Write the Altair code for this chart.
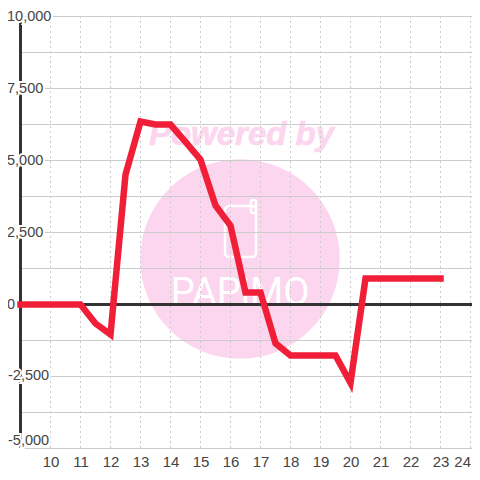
import altair as alt
import pandas as pd

hours = [9, 10, 11, 11.5, 12, 12.5, 13, 13.5, 14, 14.5, 15, 15.5, 16, 16.5, 17, 17.5,
         18, 18.5, 19, 19.5, 20, 20.5, 21, 21.5, 22, 22.5, 23]
values = [0, 0, 0, -660, -1040, 4510, 6350, 6250, 6250, 5650, 5030, 3440, 2740, 420, 420, -1350,
          -1770, -1770, -1770, -1770, -2720, 900, 900, 900, 900, 900, 900]
x_ticks = list(range(10, 25))
y_grid = [-5000, -3750, -2500, -1250, 0, 1250, 2500, 3750, 5000, 6250, 7500, 8750, 10000]
y_labels_pos = [10000, 7500, 5000, 2500, 0]
y_text_pos = ["10,000", "7,500", "5,000", "2,500", "0"]
y_labels_neg = [-2500]
y_text_neg = ["-2,500"]
y_labels_low = [-5000]
y_text_low = ["-5,000"]

FONT = "Liberation Sans"
GRID = "#cccccc"
DARK = "#333333"
PINK = "#fcd5ee"
RED = "#f01f37"

xs = alt.Scale(domain=[8.5833, 24.05], nice=False, zero=False)
ys = alt.Scale(domain=[-4982.64, 10295.14], nice=False, zero=False)
x_axis = alt.Axis(values=x_ticks, domain=False, ticks=False, grid=False, title=None, format="d",
                  labelFont=FONT, labelFontSize=15, labelColor="#444444", labelPadding=6,
                  labelOverlap=False, labelFlush=False, labelBound=False,
                  labelAlign=alt.expr("datum.value == 24 ? 'right' : 'center'"))
X = lambda f: alt.X(f, type="quantitative", scale=xs, axis=x_axis, title=None)
Y = lambda f: alt.Y(f, type="quantitative", scale=ys, axis=None)

line_df = pd.DataFrame({"hour": hours, "value": values})
xgrid_df = pd.DataFrame({"t": x_ticks})
ygrid_df = pd.DataFrame({"v": [v for v in y_grid if v != 0]})
zero_df = pd.DataFrame({"v": [0]})
axis_df = pd.DataFrame({"h": [9], "a": [-5000], "b": [10000]})

# Watermark
base = alt.Chart(zero_df)
circle = base.mark_point(shape="circle", filled=True, color=PINK, opacity=1, size=39800).encode(
    x=alt.value(232), y=alt.value(251))
powered = base.mark_text(text="Powered by", font=FONT, fontSize=33, fontWeight="bold", fontStyle="italic",
                         color=PINK, stroke=PINK, strokeWidth=0.6, align="center", baseline="alphabetic").encode(
    x=alt.value(233.5), y=alt.value(137))
phone = base.mark_rect(fillOpacity=0, stroke="white", strokeWidth=2.5, cornerRadius=4).encode(
    x=alt.value(217), x2=alt.value(248), y=alt.value(198), y2=alt.value(249))
antenna = base.mark_rect(fillOpacity=0, stroke="white", strokeWidth=2.5, cornerRadius=2).encode(
    x=alt.value(243), x2=alt.value(248), y=alt.value(192), y2=alt.value(205))
papimo = base.mark_text(text="PAPiMO", font="Roboto", fontSize=38, fontWeight=400, color="white",
                        align="center", baseline="alphabetic").encode(
    x=alt.value(232), y=alt.value(297))

# Grid
hgrid = alt.Chart(ygrid_df).mark_rule(color=GRID, strokeWidth=1).encode(
    x=alt.value(12.5), x2=alt.value(464), y=Y("v"))
vgrid = alt.Chart(xgrid_df).mark_rule(color=GRID, strokeWidth=1, strokeDash=[2, 3]).encode(
    x=X("t"), y=alt.value(8), y2=alt.value(440))
zero = alt.Chart(zero_df).mark_rule(color=DARK, strokeWidth=3).encode(
    x=alt.value(12.5), x2=alt.value(464), y=Y("v"))
yaxis = alt.Chart(axis_df).mark_rule(color=DARK, strokeWidth=3).encode(
    x=X("h"), y=Y("a"), y2="b")

line = alt.Chart(line_df).mark_line(color=RED, strokeWidth=6.5, strokeCap="square", strokeJoin="miter").encode(
    x=X("hour"), y=Y("value"), order="hour")


def labels(vals, txt, x, dy=0):
    df = pd.DataFrame({"v": vals, "label": txt})
    common = dict(font=FONT, fontSize=14.5, align="left", baseline="middle", dy=dy)
    halo = alt.Chart(df).mark_text(stroke="white", strokeWidth=4, fill="white", **common).encode(
        x=alt.value(x), y=Y("v"), text="label")
    fg = alt.Chart(df).mark_text(color="#444444", **common).encode(
        x=alt.value(x), y=Y("v"), text="label")
    return [halo, fg]


layers = [circle, powered, phone, antenna, papimo, hgrid, vgrid, zero, yaxis, line]
layers += labels(y_labels_pos, y_text_pos, -1)
layers += labels(y_labels_neg, y_text_neg, 0)
layers += labels(y_labels_low, y_text_low, 0, dy=-7)

chart = alt.layer(*layers).properties(
    width=464, height=440,
    autosize=alt.AutoSizeParams(type="none"),
    padding={"left": 0, "top": 0, "right": 0, "bottom": 24},
    background="white",
).configure_view(stroke=None)

chart.save("out.html", embed_options={"renderer": "svg", "actions": False})
